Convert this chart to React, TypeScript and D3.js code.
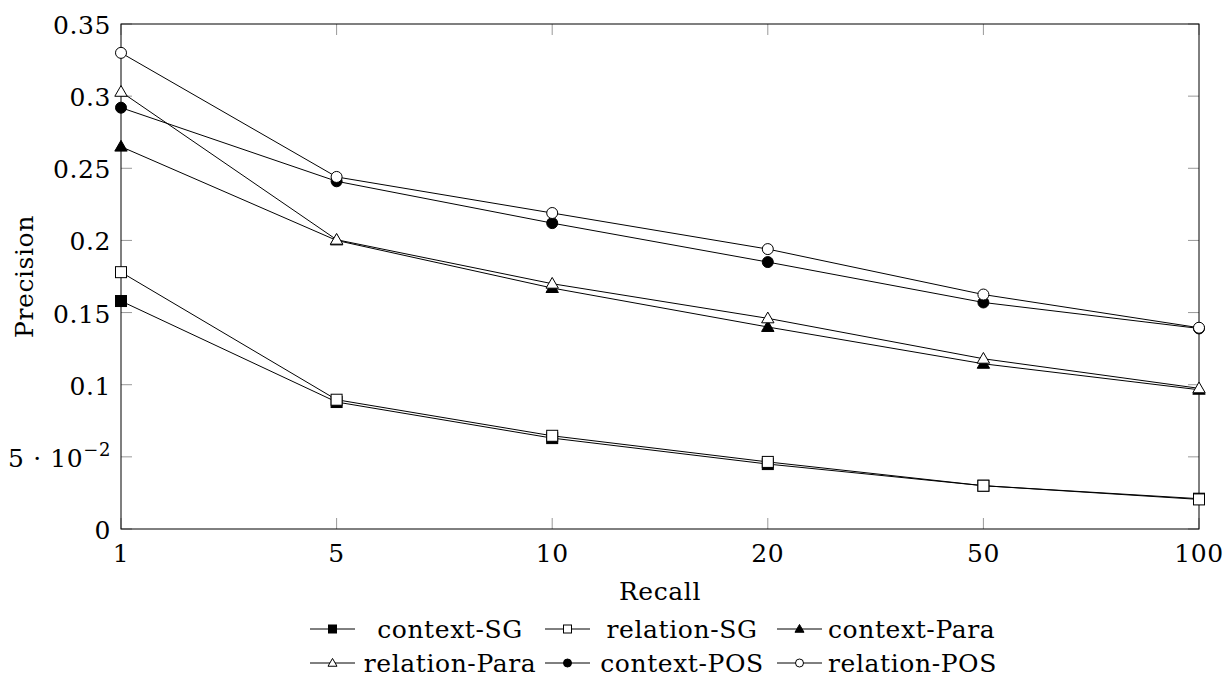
import React from 'react';
import * as d3 from 'd3';

// recall cut-offs (categorical x axis)
const recallLevels = ['1', '5', '10', '20', '50', '100'];

// precision values
const contextSG = [0.158, 0.088, 0.063, 0.045, 0.030, 0.021];
const relationSG = [0.178, 0.0896, 0.0646, 0.0465, 0.030, 0.0205];
const contextPara = [0.265, 0.200, 0.167, 0.140, 0.1145, 0.0965];
const relationPara = [0.303, 0.2005, 0.170, 0.146, 0.118, 0.0975];
const contextPOS = [0.292, 0.241, 0.212, 0.185, 0.157, 0.139];
const relationPOS = [0.330, 0.244, 0.219, 0.194, 0.1625, 0.1395];

const yTicks = [0, 0.05, 0.1, 0.15, 0.2, 0.25, 0.3, 0.35];

const seriesNames = ['context-SG', 'relation-SG', 'context-Para', 'relation-Para', 'context-POS', 'relation-POS'];
const seriesValues = [contextSG, relationSG, contextPara, relationPara, contextPOS, relationPOS];
const seriesMarks = ['square', 'square', 'triangle', 'triangle', 'circle', 'circle'];
const seriesFilled = [true, false, true, false, true, false];

const W = 1225, H = 681;
const m = {left: 121, right: 1199, top: 24, bottom: 529};
const FONT = "'DejaVu Serif', serif";
const FS = 25;

function Marker({kind, filled, x, y, size}) {
  const fill = filled ? '#000' : '#fff';
  if (kind === 'square') {
    return <rect x={x - size / 2} y={y - size / 2} width={size} height={size}
                 fill={fill} stroke="#000" strokeWidth={1} />;
  }
  if (kind === 'circle') {
    return <circle cx={x} cy={y} r={size / 2} fill={fill} stroke="#000" strokeWidth={1} />;
  }
  const s = d3.symbol().type(d3.symbolTriangle).size(size * size * 0.55)();
  return <path d={s} transform={`translate(${x},${y + size * 0.08})`}
               fill={fill} stroke="#000" strokeWidth={1} />;
}

function yLabel(v) {
  if (v === 0.05) {
    return <>5 · 10<tspan dy={-11} style={{fontSize: 18}}>−2</tspan></>;
  }
  return String(+v.toFixed(2));
}

export default function App() {
  const x = d3.scalePoint().domain(recallLevels).range([m.left, m.right]);
  const y = d3.scaleLinear().domain([0, 0.35]).range([m.bottom, m.top]);
  const line = d3.line().x((d, i) => x(recallLevels[i])).y(d => y(d));

  // legend layout: two rows, three columns
  const legendCols = [{lx: 310, tx: 450, anchor: 'middle'},
                      {lx: 545, tx: 682, anchor: 'middle'},
                      {lx: 777, tx: 828, anchor: 'start'}];
  const legendRows = [629, 663];

  return (
    <svg width={W} height={H}
         style={{position: 'absolute', left: 0, top: 0, fontFamily: FONT, fontSize: FS, letterSpacing: '0.6px'}}>
      <rect width={W} height={H} fill="#fff" />

      {/* ticks, inward on all four sides */}
      {recallLevels.map(c => (
        <g key={'xt' + c} stroke="#999" strokeWidth={1}>
          <line x1={x(c)} x2={x(c)} y1={m.bottom} y2={m.bottom - 11} />
          <line x1={x(c)} x2={x(c)} y1={m.top} y2={m.top + 11} />
        </g>
      ))}
      {yTicks.map(t => (
        <g key={'yt' + t} stroke="#999" strokeWidth={1}>
          <line x1={m.left} x2={m.left + 11} y1={y(t)} y2={y(t)} />
          <line x1={m.right} x2={m.right - 11} y1={y(t)} y2={y(t)} />
        </g>
      ))}

      <rect x={m.left} y={m.top} width={m.right - m.left} height={m.bottom - m.top}
            fill="none" stroke="#000" strokeWidth={1} />

      {/* tick labels */}
      {recallLevels.map(c => (
        <text key={'xl' + c} x={x(c)} y={m.bottom + 33} textAnchor="middle">{c}</text>
      ))}
      {yTicks.map(t => (
        <text key={'yl' + t} x={m.left - 10} y={y(t) + 10} textAnchor="end">{yLabel(t)}</text>
      ))}

      <text x={(m.left + m.right) / 2} y={600} textAnchor="middle">Recall</text>
      <text transform={`translate(33,${(m.top + m.bottom) / 2}) rotate(-90)`} textAnchor="middle">Precision</text>

      {/* series */}
      {seriesValues.map((vals, si) => (
        <g key={'s' + si}>
          <path d={line(vals)} fill="none" stroke="#000" strokeWidth={1} />
          {vals.map((v, i) => (
            <Marker key={i} kind={seriesMarks[si]} filled={seriesFilled[si]}
                    x={x(recallLevels[i])} y={y(v)} size={11} />
          ))}
        </g>
      ))}

      {/* legend */}
      {seriesNames.map((name, si) => {
        const col = legendCols[si % 3];
        const ry = legendRows[Math.floor(si / 3)];
        return (
          <g key={'lg' + si}>
            <line x1={col.lx} x2={col.lx + 45} y1={ry} y2={ry} stroke="#000" strokeWidth={1} />
            <Marker kind={seriesMarks[si]} filled={seriesFilled[si]} x={col.lx + 22.5} y={ry} size={8} />
            <text x={col.tx} y={ry + 9} textAnchor={col.anchor}>{name}</text>
          </g>
        );
      })}
    </svg>
  );
}
